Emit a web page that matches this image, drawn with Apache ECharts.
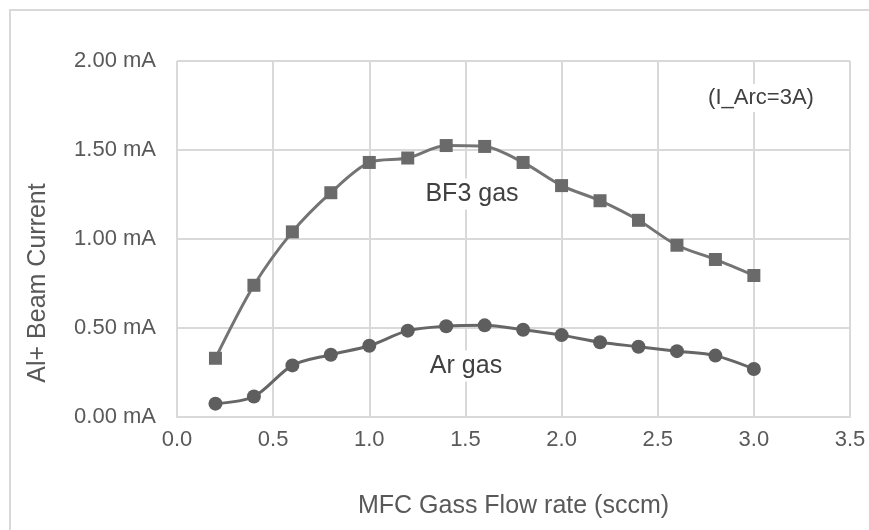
<!DOCTYPE html>
<html>
<head>
<meta charset="utf-8">
<script src="https://cdn.jsdelivr.net/npm/echarts@6/dist/echarts.min.js"></script>
<style>
  html, body { margin: 0; padding: 0; background: #fff; }
  #chart { width: 869px; height: 530px; }
</style>
</head>
<body>
<div id="chart"></div>
<script>
// Gas flow rate (sccm)
const flowRates = [0.2, 0.4, 0.6, 0.8, 1.0, 1.2, 1.4, 1.6, 1.8, 2.0, 2.2, 2.4, 2.6, 2.8, 3.0];
// Al+ beam current (mA) with BF3 gas
const bf3Current = [0.33, 0.74, 1.04, 1.26, 1.43, 1.455, 1.525, 1.52, 1.43, 1.30, 1.215, 1.105, 0.965, 0.885, 0.795];
// Al+ beam current (mA) with Ar gas
const arCurrent = [0.075, 0.115, 0.29, 0.35, 0.40, 0.485, 0.51, 0.515, 0.49, 0.46, 0.42, 0.395, 0.37, 0.345, 0.27];

const xTicks = { min: 0, max: 3.5, interval: 0.5 };
const yTicks = { min: 0, max: 2, interval: 0.5 };

const textColor = '#595959';
const gridColor = '#d9d9d9';
const font = 'Liberation Sans, Arial, sans-serif';

const chart = echarts.init(document.getElementById('chart'));

const pairs = (xs, ys) => xs.map((x, i) => [x, ys[i]]);

// Annotation text boxes with a white fill, so grid lines stop behind them
const note = (text, x, y, size) => ({
  type: 'text', x, y, z: 100,
  style: {
    text, fill: '#404040', font: size + 'px ' + font,
    textAlign: 'center', textVerticalAlign: 'middle',
    backgroundColor: '#fff', padding: [3, 6]
  }
});

chart.setOption({
  animation: false,
  backgroundColor: '#fff',
  grid: { left: 177, right: 19, top: 61, bottom: 113, containLabel: false },
  xAxis: {
    type: 'value',
    min: xTicks.min, max: xTicks.max, interval: xTicks.interval,
    name: 'MFC Gass Flow rate (sccm)',
    nameLocation: 'middle',
    nameGap: 77,
    nameTextStyle: { color: textColor, fontSize: 25, fontFamily: font },
    axisLine: { show: true, lineStyle: { color: gridColor, width: 2 } },
    axisTick: { show: false },
    splitLine: { show: true, lineStyle: { color: gridColor, width: 2 } },
    axisLabel: {
      color: textColor, fontSize: 22, fontFamily: font, margin: 12,
      formatter: v => v.toFixed(1)
    }
  },
  yAxis: {
    type: 'value',
    min: yTicks.min, max: yTicks.max, interval: yTicks.interval,
    axisLine: { show: false },
    axisTick: { show: false },
    splitLine: { show: true, lineStyle: { color: gridColor, width: 2 } },
    axisLabel: {
      color: textColor, fontSize: 22, fontFamily: font, margin: 21,
      formatter: v => v.toFixed(2) + ' mA'
    }
  },
  series: [
    {
      name: 'BF3 gas',
      type: 'line',
      data: pairs(flowRates, bf3Current),
      smooth: 0.3,
      symbol: 'rect',
      symbolSize: 13,
      lineStyle: { color: '#747474', width: 3 },
      itemStyle: { color: '#6a6a6a' }
    },
    {
      name: 'Ar gas',
      type: 'line',
      data: pairs(flowRates, arCurrent),
      smooth: 0.3,
      symbol: 'circle',
      symbolSize: 14,
      lineStyle: { color: '#666666', width: 3 },
      itemStyle: { color: '#5e5e5e' }
    }
  ],
  graphic: [
    {
      type: 'rect', silent: true,
      shape: { x: 10, y: 10, width: 900, height: 600 },
      style: { fill: 'none', stroke: gridColor, lineWidth: 2 }
    },
    // vertical axis title, placed a little below the plot's middle
    {
      type: 'text', x: 38, y: 283, rotation: Math.PI / 2,
      style: {
        text: 'Al+ Beam Current', fill: textColor, font: '25px ' + font,
        textAlign: 'center', textVerticalAlign: 'middle'
      }
    },
    note('BF3 gas', 472, 194, 25),
    note('Ar gas', 466, 366, 25),
    note('(I_Arc=3A)', 761, 98, 22)
  ]
});
</script>
</body>
</html>
